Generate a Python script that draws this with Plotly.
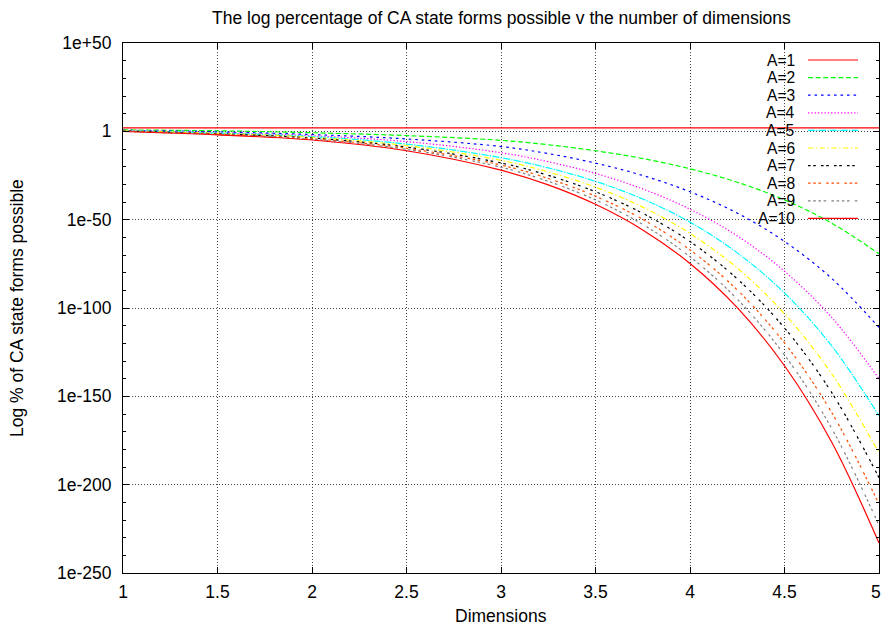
import plotly.graph_objects as go

# ---------------- data (log10 of the percentage) -------------
dims = [1, 1.5, 2, 2.5, 3, 3.25, 3.5, 3.75, 4, 4.25, 4.5, 4.75, 5]

series_names = ["A=1", "A=2", "A=3", "A=4", "A=5", "A=6", "A=7", "A=8", "A=9", "A=10"]

exp_a1 = [2, 2, 2, 2, 2, 2, 2, 2, 2, 2, 2, 2, 2]
exp_a2 = [0.8, 0.3, -0.8, -2.4, -5.1, -7.6, -11.0, -15.4, -21.2, -28.8, -38.8, -52.0, -69.3]
exp_a3 = [0.6, -0.3, -1.8, -4.3, -8.6, -12.6, -18.0, -25.0, -34.2, -46.3, -62.3, -83.3, -111.0]
exp_a4 = [0.5, -0.7, -2.5, -5.8, -12.1, -17.2, -23.8, -32.6, -44.1, -59.2, -79.2, -105.4, -140.0]
exp_a5 = [0.4, -1.0, -3.0, -7.2, -14.9, -20.7, -28.3, -38.3, -51.4, -68.8, -91.5, -121.5, -161.0]
exp_a6 = [0.3, -1.2, -3.4, -8.1, -16.4, -23.0, -31.6, -42.9, -57.8, -77.4, -103.3, -137.3, -182.0]
exp_a7 = [0.2, -1.4, -3.8, -8.9, -17.9, -24.9, -34.2, -46.4, -62.4, -83.5, -111.3, -147.9, -196.0]
exp_a8 = [0.1, -1.6, -4.2, -9.6, -19.1, -26.7, -36.7, -49.8, -67.1, -89.8, -119.8, -159.2, -211.0]
exp_a9 = [0.0, -1.8, -4.5, -10.2, -20.3, -28.3, -38.8, -52.7, -71.0, -95.0, -126.6, -168.2, -223.0]
exp_a10 = [-0.1, -2.0, -4.9, -11.0, -22.0, -30.3, -41.3, -55.8, -74.8, -99.8, -132.7, -176.0, -233.0]

all_exps = [exp_a1, exp_a2, exp_a3, exp_a4, exp_a5, exp_a6, exp_a7, exp_a8, exp_a9, exp_a10]

x_tick_vals = [1, 1.5, 2, 2.5, 3, 3.5, 4, 4.5, 5]
x_tick_text = ["1", "1.5", "2", "2.5", "3", "3.5", "4", "4.5", "5"]
y_tick_exps = [50, 0, -50, -100, -150, -200, -250]
y_tick_text = ["1e+50", "1", "1e-50", "1e-100", "1e-150", "1e-200", "1e-250"]

# ---------------- styles ----------------
colors = ["#ff0000", "#00ff00", "#0000ff", "#ff00ff", "#00ffff",
          "#ffff00", "#000000", "#ff4d00", "#808080", "#ff0000"]
dashes = ["solid", "5px,2.6px", "2.6px,3.9px", "1.3px,2px", "7px,1.3px,1.3px,1.3px",
          "5.2px,2.6px,1.3px,2.6px", "2.6px,2.6px,2.6px,5.2px",
          "2.6px,2.6px,2.6px,2.6px,2.6px,5.2px",
          "2.6px,2.6px,2.6px,2.6px,2.6px,2.6px,2.6px,5.2px", "solid"]

FONT = "Liberation Sans, Arial, sans-serif"
FS = 17.5
FS_KEY = 15.6
W, H = 882, 628
ML, MR, MT, MB = 123, 3, 43, 55
PW, PH = W - ML - MR, H - MT - MB


def px2x(px):
    return (px - ML) / PW


def py2y(py):
    return 1 - (py - MT) / PH


fig = go.Figure()
for name, ex, c, d in zip(series_names, all_exps, colors, dashes):
    fig.add_trace(go.Scatter(
        x=dims, y=[10 ** v for v in ex], mode="lines", name=name,
        line=dict(color=c, width=1.2, dash=d, shape="spline", smoothing=1.0),
        showlegend=False))

# the last x tick label sits at the right page edge; it is drawn right-aligned
# as an annotation so that it stays fully inside the page
axis_tick_text = x_tick_text[:-1] + [""]

grid_col = "#444444"
fig.update_xaxes(
    range=[1, 5], tickmode="array", tickvals=x_tick_vals, ticktext=axis_tick_text,
    showgrid=True, gridcolor=grid_col, griddash="1px,2px", gridwidth=1,
    ticks="inside", ticklen=6, tickcolor="black", showline=True, linecolor="black",
    linewidth=1, mirror="ticks", zeroline=False, ticklabelstandoff=3,
    tickfont=dict(family=FONT, size=FS, color="black"))

minor_vals = [10.0 ** e for e in range(50, -251, -10) if e % 50 != 0]
fig.update_yaxes(
    type="log", range=[-250, 50], tickmode="array",
    tickvals=[10.0 ** e for e in y_tick_exps], ticktext=y_tick_text,
    showgrid=True, gridcolor=grid_col, griddash="1px,2px", gridwidth=1,
    ticks="inside", ticklen=6, tickcolor="black", showline=True, linecolor="black",
    linewidth=1, mirror="ticks", zeroline=False, ticklabelstandoff=7,
    minor=dict(tickmode="array", tickvals=minor_vals, ticks="inside", ticklen=3,
               tickcolor="black", showgrid=False),
    tickfont=dict(family=FONT, size=FS, color="black"))

annotations = [
    dict(text="The log percentage of CA state forms possible v the number of dimensions",
         xref="paper", yref="paper", x=0.5, y=py2y(17.5), xanchor="center",
         yanchor="middle", showarrow=False, font=dict(family=FONT, size=FS, color="black")),
    dict(text="Dimensions", xref="paper", yref="paper", x=0.5, y=py2y(616),
         xanchor="center", yanchor="middle", showarrow=False,
         font=dict(family=FONT, size=FS, color="black")),
    dict(text="Log % of CA state forms possible", xref="paper", yref="paper",
         x=px2x(17), y=0.5, xanchor="center", yanchor="middle", textangle=-90,
         showarrow=False, font=dict(family=FONT, size=FS, color="black")),
    dict(text=x_tick_text[-1], xref="paper", yref="paper", x=px2x(882),
         y=py2y(592), xanchor="right", yanchor="middle", showarrow=False,
         borderpad=0, font=dict(family=FONT, size=FS, color="black")),
]

shapes = [
    dict(type="rect", xref="paper", yref="paper", x0=px2x(753), x1=px2x(871),
         y0=py2y(227), y1=py2y(51), fillcolor="white", line=dict(width=0),
         layer="between"),
]

row0, row_step = 60, 17.6
for i, (name, c, d) in enumerate(zip(series_names, colors, dashes)):
    ry = row0 + i * row_step
    annotations.append(dict(text=name, xref="paper", yref="paper", x=px2x(797),
                            y=py2y(ry), xanchor="right", yanchor="middle",
                            showarrow=False,
                            font=dict(family=FONT, size=FS_KEY, color="black")))
    shapes.append(dict(type="line", xref="paper", yref="paper", x0=px2x(808),
                       x1=px2x(858), y0=py2y(ry), y1=py2y(ry),
                       line=dict(color=c, width=1.2, dash=d), layer="above"))

fig.update_layout(
    width=W, height=H, margin=dict(l=ML, r=MR, t=MT, b=MB, autoexpand=False),
    paper_bgcolor="white", plot_bgcolor="white",
    font=dict(family=FONT, size=FS, color="black"),
    annotations=annotations, shapes=shapes, showlegend=False)

fig.write_html("out.html")
